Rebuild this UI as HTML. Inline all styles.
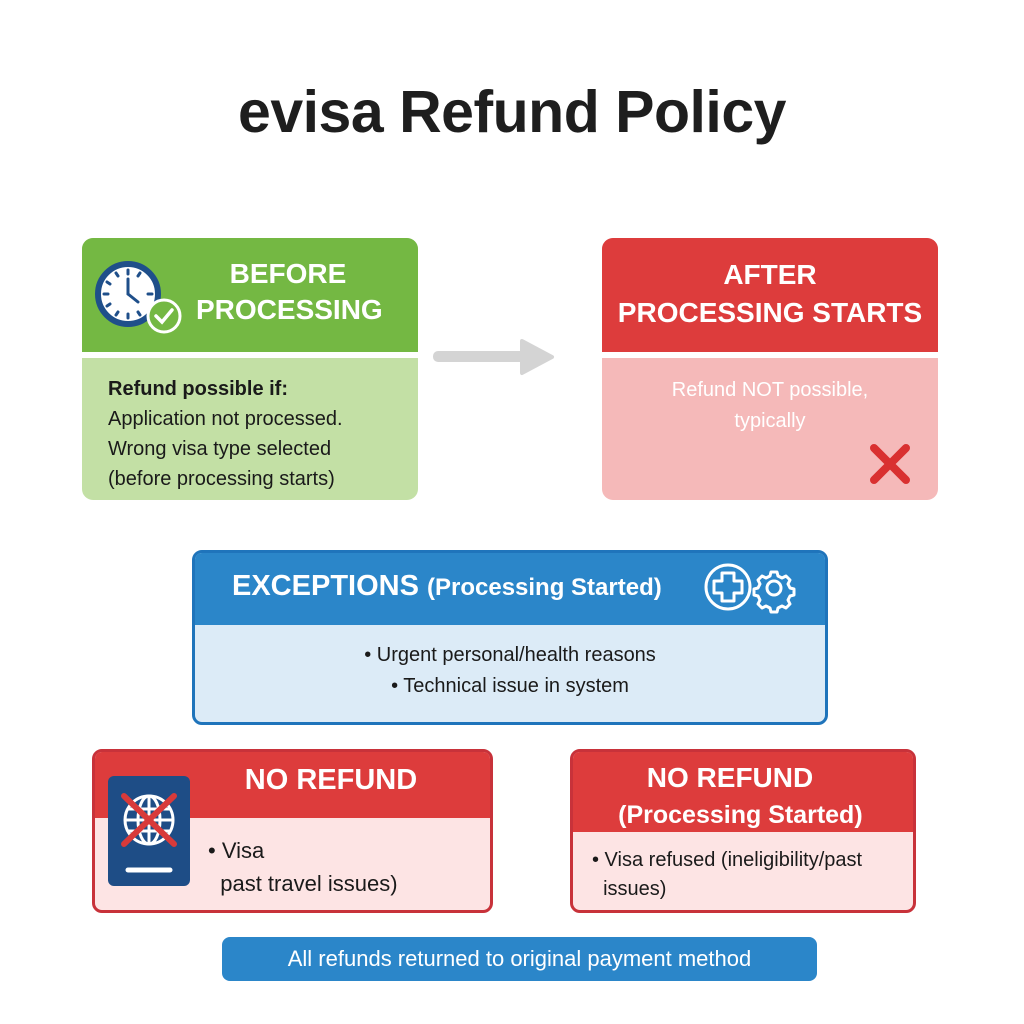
<!DOCTYPE html>
<html><head><meta charset="utf-8"><style>
*{margin:0;padding:0;box-sizing:border-box}
body{width:1024px;height:1024px;background:#fff;position:relative;overflow:hidden;font-family:"Liberation Sans",sans-serif}
.a{position:absolute}
.t{position:absolute;white-space:nowrap}
.w{color:#fff;font-weight:bold}
</style></head><body>
<div class="t" style="left:0;width:1024px;top:78px;text-align:center;font-size:59px;font-weight:bold;color:#1e1e1e;letter-spacing:-0.5px">evisa Refund Policy</div>

<!-- green box -->
<div class="a" style="left:82px;top:238px;width:336px;height:262px;border-radius:11px;overflow:hidden;background:#c3e0a5">
  <div class="a" style="left:0;top:0;width:336px;height:114px;background:#74b843"></div>
  <div class="a" style="left:0;top:114px;width:336px;height:6px;background:#fff"></div>
</div>
<svg class="a" style="left:94px;top:260px" width="92" height="76" viewBox="0 0 92 76">
 <circle cx="34" cy="34" r="30" fill="#fff" stroke="#1f4f8a" stroke-width="6"/>
 <g stroke="#1f4f8a" stroke-width="3" stroke-linecap="round">
  <line x1="34" y1="10" x2="34" y2="14"/><line x1="34" y1="54" x2="34" y2="58"/>
  <line x1="10" y1="34" x2="14" y2="34"/><line x1="54" y1="34" x2="58" y2="34"/>
  <line x1="22" y1="13" x2="24" y2="16"/><line x1="46" y1="13" x2="44" y2="16"/>
  <line x1="13" y1="22" x2="16" y2="24"/><line x1="13" y1="46" x2="16" y2="44"/>
  <line x1="22" y1="55" x2="24" y2="52"/><line x1="46" y1="55" x2="44" y2="52"/>
  <line x1="34" y1="34" x2="34" y2="19"/><line x1="34" y1="34" x2="44" y2="42"/>
 </g>
 <circle cx="70" cy="56" r="16" fill="#74b843" stroke="#fff" stroke-width="3"/>
 <path d="M62 56 L68 62 L78 50" fill="none" stroke="#fff" stroke-width="3.5" stroke-linecap="round"/>
</svg>
<div class="t w" style="left:196px;width:184px;top:256px;text-align:center;font-size:28px;line-height:36px">BEFORE<br>PROCESSING</div>
<div class="t" style="left:108px;top:374px;font-size:20px;line-height:30px;color:#1a1a1a"><b>Refund possible if:</b><br>Application not processed.<br>Wrong visa type selected<br>(before processing starts)</div>

<!-- arrow -->
<div class="a" style="left:433px;top:351px;width:96px;height:11px;border-radius:5px;background:#d4d4d4"></div>
<svg class="a" style="left:518px;top:338px" width="38" height="38"><path d="M4 3 L34 19 L4 35 Z" fill="#d4d4d4" stroke="#d4d4d4" stroke-width="4" stroke-linejoin="round"/></svg>

<!-- red box -->
<div class="a" style="left:602px;top:238px;width:336px;height:262px;border-radius:11px;overflow:hidden;background:#f5b9b9">
  <div class="a" style="left:0;top:0;width:336px;height:114px;background:#dd3c3c"></div>
  <div class="a" style="left:0;top:114px;width:336px;height:6px;background:#fff"></div>
</div>
<div class="t w" style="left:602px;width:336px;top:256px;text-align:center;font-size:28px;line-height:38px">AFTER<br>PROCESSING STARTS</div>
<div class="t" style="left:602px;width:336px;top:375px;text-align:center;font-size:20px;line-height:31px;color:#fff">Refund NOT possible,<br>typically</div>
<svg class="a" style="left:868px;top:442px" width="44" height="44"><path d="M6 6 L38 38 M38 6 L6 38" stroke="#d93030" stroke-width="8" stroke-linecap="round"/></svg>

<!-- exceptions -->
<div class="a" style="left:192px;top:550px;width:636px;height:175px;border:3px solid #1f74bb;border-radius:10px;overflow:hidden;background:#dcebf7">
  <div class="a" style="left:0;top:0;width:636px;height:72px;background:#2b86c9"></div>
</div>
<div class="t w" style="left:232px;top:570px;font-size:29px">EXCEPTIONS <span style="font-size:24px">(Processing Started)</span></div>
<svg class="a" style="left:702px;top:560px" width="96" height="54" viewBox="0 0 96 54">
 <circle cx="26" cy="27" r="22" fill="none" stroke="#fff" stroke-width="3"/>
 <path d="M20 13 h12 v8 h8 v12 h-8 v8 h-12 v-8 h-8 v-12 h8 z" fill="none" stroke="#fff" stroke-width="3" stroke-linejoin="round"/>
 <g transform="translate(72 28)" fill="none" stroke="#fff" stroke-width="3">
  <circle r="7"/>
  <path d="M-3 -16 h6 l1 4 l4 2 l4 -2 l4 4 l-2 4 l2 4 l4 1 v6 l-4 1 l-2 4 l2 4 l-4 4 l-4 -2 l-4 2 l-1 4 h-6 l-1 -4 l-4 -2 l-4 2 l-4 -4 l2 -4 l-2 -4 l-4 -1 v-6 l4 -1 l2 -4 l-2 -4 l4 -4 l4 2 l4 -2 z" stroke-linejoin="round"/>
 </g>
</svg>
<div class="t" style="left:192px;width:636px;top:640px;text-align:center;font-size:20px;line-height:31px;color:#1a1a1a">• Urgent personal/health reasons<br>• Technical issue in system</div>

<!-- no refund left -->
<div class="a" style="left:92px;top:749px;width:401px;height:164px;border:3px solid #c8323a;border-radius:10px;overflow:hidden;background:#fde4e4">
  <div class="a" style="left:0;top:0;width:401px;height:66px;background:#dd3c3c"></div>
</div>
<div class="a" style="left:108px;top:776px;width:82px;height:110px;border-radius:6px;background:#1e4d86"></div>
<svg class="a" style="left:108px;top:776px" width="82" height="110">
 <g fill="none" stroke="#fff" stroke-width="3">
  <circle cx="41" cy="44" r="24"/><ellipse cx="41" cy="44" rx="11" ry="24"/>
  <line x1="41" y1="20" x2="41" y2="68"/><line x1="17" y1="44" x2="65" y2="44"/>
  <line x1="20" y1="33" x2="62" y2="33"/><line x1="20" y1="55" x2="62" y2="55"/>
 </g>
 <path d="M16 20 L66 68 M66 20 L16 68" stroke="#d83a3a" stroke-width="6" stroke-linecap="round"/>
 <line x1="20" y1="94" x2="62" y2="94" stroke="#fff" stroke-width="5" stroke-linecap="round"/>
</svg>
<div class="t w" style="left:200px;width:262px;top:764px;text-align:center;font-size:29px">NO REFUND</div>
<div class="t" style="left:208px;top:834px;font-size:22px;line-height:33px;color:#1a1a1a">• Visa<br>&nbsp;&nbsp;past travel issues)</div>

<!-- no refund right -->
<div class="a" style="left:570px;top:749px;width:346px;height:164px;border:3px solid #c8323a;border-radius:10px;overflow:hidden;background:#fde4e4">
  <div class="a" style="left:0;top:0;width:346px;height:80px;background:#dd3c3c"></div>
</div>
<div class="t w" style="left:570px;width:320px;top:760px;text-align:center;font-size:28px;line-height:36px">NO REFUND<br><span style="font-size:25px">&nbsp;&nbsp;&nbsp;(Processing Started)</span></div>
<div class="t" style="left:592px;top:846px;font-size:20px;line-height:29px;color:#1a1a1a">• Visa refused (ineligibility/past<br>&nbsp;&nbsp;issues)</div>

<!-- banner -->
<div class="a" style="left:222px;top:937px;width:595px;height:44px;border-radius:8px;background:#2b86c9"></div>
<div class="t" style="left:222px;width:595px;top:946px;text-align:center;font-size:22px;color:#fff">All refunds returned to original payment method</div>
</body></html>
